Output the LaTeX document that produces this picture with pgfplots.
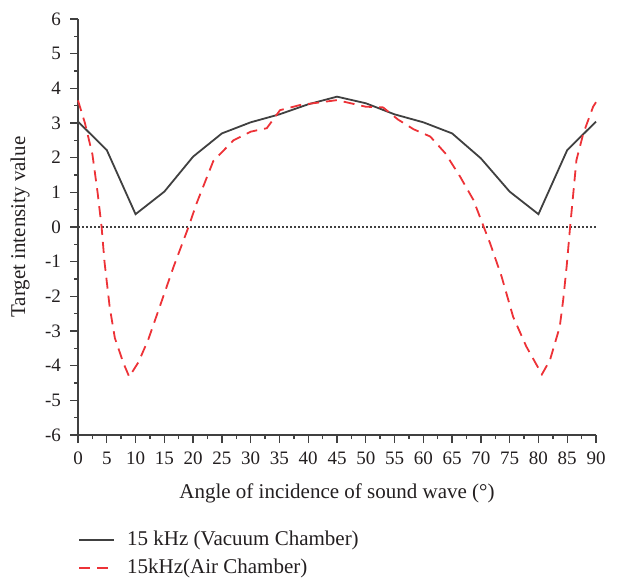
\documentclass[border=0pt]{standalone}
\usepackage{pgfplots}
\pgfplotsset{compat=1.18}
\usepackage{fontspec}
\setmainfont{Liberation Serif}

\definecolor{darkline}{RGB}{64,64,64}
\definecolor{txt}{RGB}{35,31,32}
\definecolor{airred}{RGB}{237,50,55}

\begin{document}
\begin{tikzpicture}
\begin{axis}[
    scale only axis,
    width=259pt,
    height=208pt,
    xmin=0, xmax=90,
    ymin=-6, ymax=6,
    xtick={0,5,...,90},
    ytick={-6,-5,...,6},
    minor x tick num=1,
    minor y tick num=1,
    axis x line*=bottom,
    axis y line*=left,
    axis line style={darkline, line width=0.8pt},
    tick style={darkline, line width=0.7pt},
    tick align=outside,
    major tick length=4pt,
    minor tick length=2pt,
    tick label style={font=\fontsize{9.5}{10}\selectfont, text=txt},
    xticklabel style={yshift=-1pt},
    yticklabel style={xshift=-1pt},
    label style={font=\fontsize{10.5}{11}\selectfont, text=txt},
    /pgf/number format/assume math mode=true,
    xlabel={Angle of incidence of sound wave (°)},
    ylabel={Target intensity value},
    xlabel style={at={(axis description cs:0.5,0)}, anchor=center, yshift=-29pt},
    ylabel style={at={(axis description cs:0,0.5)}, anchor=center, yshift=29pt},
    clip=false,
    legend style={draw=none, fill=none, inner sep=0pt,
        at={(axis description cs:0,0)}, anchor=north west, yshift=-46pt,
        font=\fontsize{10.5}{13.5}\selectfont, text=txt,
        cells={anchor=west}, row sep=1pt},
    legend image code/.code={\draw[#1] (0pt,0pt) -- (17.5pt,0pt); \path (21.5pt,0pt);},
]

\path ([xshift=-39pt,yshift=-72pt]rel axis cs:0,0)
    rectangle ([xshift=17.5pt,yshift=9.5pt]rel axis cs:1,1);

\addplot[forget plot, darkline, line width=1pt, dash pattern=on 1pt off 1pt]
coordinates {(0,0) (90,0)};

\addplot[darkline, line width=0.9pt]
coordinates {
    (0,3.04) (5,2.22) (10,0.37) (15,1.02) (20,2.03) (25,2.70)
    (30,3.02) (35,3.25) (40,3.54) (45,3.76) (50,3.57) (55,3.25)
    (60,3.02) (65,2.70) (70,1.98) (75,1.02) (80,0.37) (85,2.22) (90,3.04)
};
\addlegendentry{15 kHz (Vacuum Chamber)}

\addplot[airred, line width=0.9pt, dash pattern=on 5.5pt off 3.5pt]
coordinates {
    (0,3.65) (1.2,3.0) (2.5,2.1) (3.4,1.0) (4.1,0) (4.6,-1.0)
    (5.5,-2.3) (6.4,-3.2) (7.9,-3.93) (8.9,-4.32) (10.5,-3.9)
    (12.2,-3.25) (14.2,-2.3) (16.6,-1.15) (19.2,0) (20.6,0.68)
    (23.5,1.9) (27,2.5) (30,2.75) (32.8,2.85) (35.1,3.37) (38.6,3.52)
    (45,3.66) (50,3.47) (53,3.45) (55.6,3.1) (58.3,2.82) (61.2,2.61)
    (63.8,2.13) (66.4,1.45) (68.7,0.78) (70.5,0) (71.6,-0.47)
    (73.6,-1.43) (75.6,-2.59) (77.9,-3.45) (80.6,-4.25) (82,-3.84)
    (83.7,-2.88) (84.3,-2.1) (84.9,-1.14) (85.5,0) (86.6,1.93)
    (87.8,2.7) (89.5,3.47) (90,3.6)
};
\addlegendentry{15kHz(Air Chamber)}

\end{axis}
\end{tikzpicture}
\end{document}
